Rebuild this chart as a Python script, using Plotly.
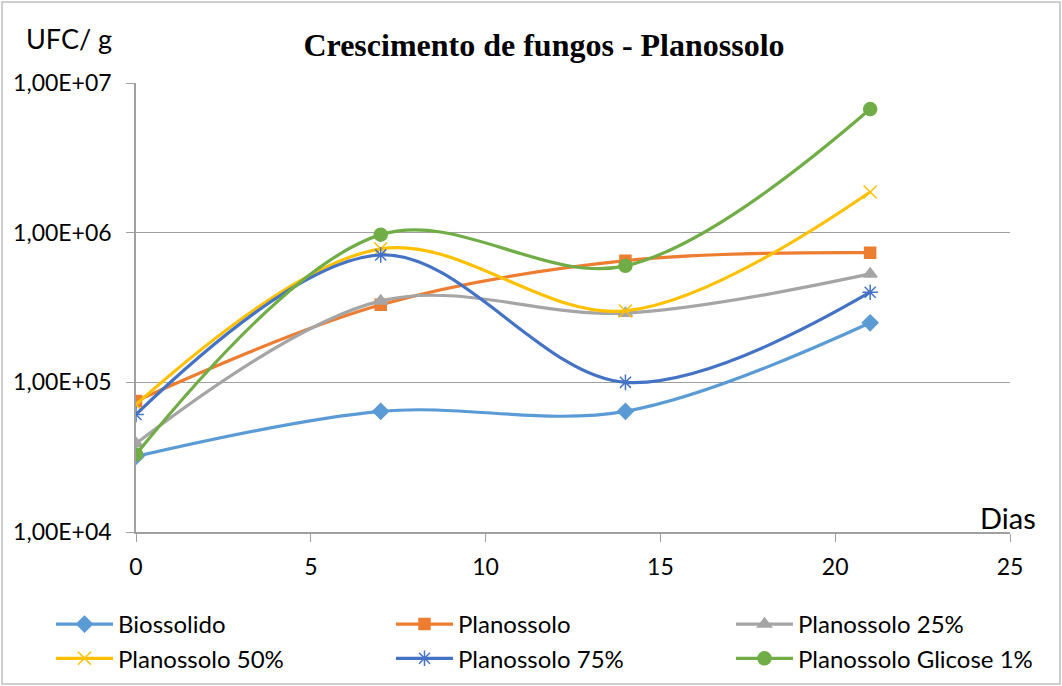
import plotly.graph_objects as go

dias = [0, 7, 14, 21]
biossolido = [3.2e4, 6.4e4, 6.4e4, 2.5e5]
planossolo = [7.5e4, 3.3e5, 6.5e5, 7.35e5]
planossolo_25 = [3.9e4, 3.5e5, 2.9e5, 5.3e5]
planossolo_50 = [7.1e4, 7.8e5, 3.0e5, 1.87e6]
planossolo_75 = [6.1e4, 7.1e5, 1.0e5, 4.0e5]
planossolo_glicose = [3.3e4, 9.7e5, 6.0e5, 6.7e6]

y_tickvals = [1e4, 1e5, 1e6, 1e7]
y_ticktext = ["1,00E+04", "1,00E+05", "1,00E+06", "1,00E+07"]

series = [
    ("Biossolido", biossolido, "#5B9BD5", "diamond", 12, "legend"),
    ("Planossolo", planossolo, "#ED7D31", "square", 11, "legend2"),
    ("Planossolo 25%", planossolo_25, "#A5A5A5", "triangle-up", 12, "legend3"),
    ("Planossolo 50%", planossolo_50, "#FFC000", "x-thin-open", 13, "legend"),
    ("Planossolo 75%", planossolo_75, "#4472C4", "asterisk-open", 13, "legend2"),
    ("Planossolo Glicose 1%", planossolo_glicose, "#70AD47", "circle", 13, "legend3"),
]

fig = go.Figure()
for name, vals, color, sym, size, leg in series:
    fig.add_trace(go.Scatter(
        x=dias, y=vals, name=name, mode="lines+markers", legend=leg,
        line=dict(color=color, width=3.2, shape="spline", smoothing=1),
        marker=dict(symbol=sym, size=size, color=color,
                    line=dict(color=color, width=1.5)),
    ))

L, R, T, B = 136, 52, 83, 154
W, H = 1062, 686
pw, ph = W - L - R, H - T - B


def leg(xpix):
    return dict(orientation="v", xref="container", yref="container",
                x=xpix / W, xanchor="left", y=1 - 602 / H, yanchor="top",
                bgcolor="rgba(0,0,0,0)", font=dict(size=24),
                tracegroupgap=0, itemwidth=57)


fig.update_layout(
    width=W, height=H,
    margin=dict(l=L, r=R, t=T, b=B, autoexpand=False),
    paper_bgcolor="white", plot_bgcolor="white",
    font=dict(family="Lato", size=22, color="black"),
    title=dict(text="<b>Crescimento de fungos - Planossolo</b>",
               font=dict(family="Liberation Serif", size=32, color="black"),
               x=544 / W, xanchor="center", y=1 - 45 / H, yanchor="middle"),
    xaxis=dict(range=[0, 25], dtick=5, tick0=0, showgrid=False, zeroline=False,
               showline=True, linecolor="#A0A0A0", linewidth=1.5,
               ticks="outside", ticklen=8, tickcolor="#A0A0A0",
               ticklabelstandoff=6,
               tickfont=dict(size=23), fixedrange=True, automargin=False),
    yaxis=dict(type="log", range=[4, 7], tickvals=y_tickvals, ticktext=y_ticktext,
               showgrid=True, gridcolor="#A0A0A0", gridwidth=1.2,
               showline=True, linecolor="#A0A0A0", linewidth=1.5,
               ticks="outside", ticklen=8, tickcolor="#A0A0A0",
               ticklabelstandoff=10,
               tickfont=dict(size=23), zeroline=False, automargin=False),
    legend=leg(51),
    legend2=leg(391),
    legend3=leg(731),
    showlegend=True,
)

fig.add_annotation(text="UFC/ g", xref="paper", yref="paper",
                   x=(24 - L) / pw, xanchor="left", y=(T + ph - 38) / ph, yanchor="middle",
                   showarrow=False, font=dict(size=27))
fig.add_annotation(text="Dias", xref="paper", yref="paper",
                   x=(1038 - L) / pw, xanchor="right", y=(T + ph - 517) / ph, yanchor="middle",
                   showarrow=False, font=dict(size=29))

fig.add_shape(type="rect", xref="paper", yref="paper",
              x0=-(L - 2) / pw, x1=(W - 2 - L) / pw,
              y0=-(B - 2) / ph, y1=(ph + T - 2) / ph,
              line=dict(color="#BFBFBF", width=1.5), fillcolor="rgba(0,0,0,0)", layer="below")

fig.write_html("out.html", config={"displayModeBar": False},
               post_script="document.body.style.margin='0px';")
